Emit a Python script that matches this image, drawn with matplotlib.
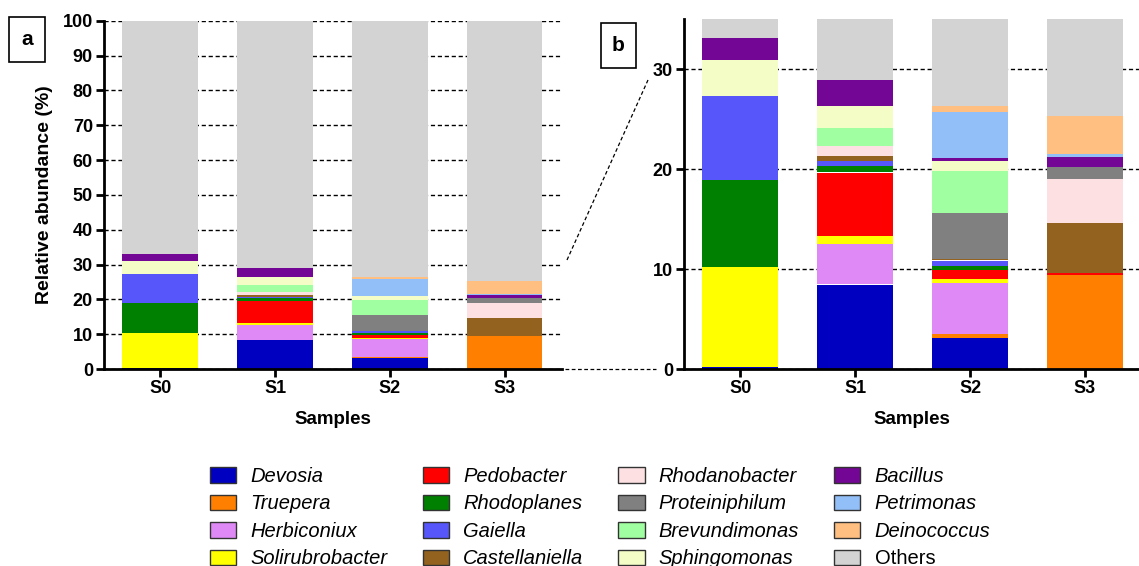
import matplotlib.pyplot as plt
from matplotlib.patches import Patch, Rectangle
from matplotlib.lines import Line2D
import numpy as np

plt.rcParams['font.family'] = ['Liberation Sans', 'DejaVu Sans']

samples = ['S0', 'S1', 'S2', 'S3']

# relative abundance (%) per genus, bottom of stack first
genera = ['Devosia', 'Truepera', 'Herbiconiux', 'Solirubrobacter',
          'Pedobacter', 'Rhodoplanes', 'Gaiella', 'Castellaniella',
          'Rhodanobacter', 'Proteiniphilum', 'Brevundimonas', 'Sphingomonas',
          'Bacillus', 'Petrimonas', 'Deinococcus', 'Others']

devosia = [0.2, 8.4, 3.1, 0.0]
truepera = [0.0, 0.05, 0.4, 9.4]
herbiconiux = [0.0, 4.1, 5.1, 0.0]
solirubrobacter = [10.0, 0.8, 0.4, 0.0]
pedobacter = [0.0, 6.3, 0.9, 0.2]
rhodoplanes = [8.7, 0.6, 0.4, 0.0]
gaiella = [8.4, 0.55, 0.55, 0.0]
castellaniella = [0.0, 0.45, 0.15, 5.05]
rhodanobacter = [0.0, 1.0, 0.0, 4.35]
proteiniphilum = [0.0, 0.0, 4.6, 1.25]
brevundimonas = [0.0, 1.8, 4.25, 0.0]
sphingomonas = [3.6, 2.25, 1.0, 0.0]
bacillus = [2.25, 2.65, 0.25, 0.95]
petrimonas = [0.0, 0.0, 4.65, 0.35]
deinococcus = [0.0, 0.0, 0.6, 3.8]

named = [devosia, truepera, herbiconiux, solirubrobacter, pedobacter,
         rhodoplanes, gaiella, castellaniella, rhodanobacter, proteiniphilum,
         brevundimonas, sphingomonas, bacillus, petrimonas, deinococcus]
others = list(100 - np.sum(named, axis=0))
series = named + [others]

colors = ['#0000c0', '#ff8000', '#df89f7', '#ffff00', '#ff0000', '#008000',
          '#5656fa', '#93621f', '#fde0e2', '#808080', '#a0ffa0', '#f4fdc6',
          '#730694', '#92bff8', '#ffbf80', '#d3d3d3']

fig = plt.figure(figsize=(11.39, 5.66), dpi=100)
W, H = 1139, 566

def px(x0, y0, x1, y1):
    # pixel box -> figure fraction rect
    return [x0 / W, 1 - y1 / H, (x1 - x0) / W, (y1 - y0) / H]

ax_a = fig.add_axes(px(104, 20.7, 562, 369))
ax_b = fig.add_axes(px(684, 19, 1139, 369))

x = np.arange(len(samples))
for ax, top, ticks, xlim in [(ax_a, 100, np.arange(0, 101, 10), (-0.49, 3.5)),
                             (ax_b, 35, [0, 10, 20, 30], (-0.49, 3.47))]:
    bottom = np.zeros(len(samples))
    for vals, c in zip(series, colors):
        ax.bar(x, vals, 0.66, bottom=bottom, color=c, linewidth=0, zorder=2)
        bottom += np.array(vals)
    ax.set_ylim(0, top)
    ax.set_xlim(*xlim)
    ax.set_yticks(ticks)
    ax.set_xticks(x)
    ax.set_xticklabels(samples)
    ax.yaxis.grid(True, color='black', linestyle=(0, (3, 2)), linewidth=1)
    ax.set_axisbelow(True)
    for s in ['top', 'right']:
        ax.spines[s].set_visible(False)
    for s in ['left', 'bottom']:
        ax.spines[s].set_linewidth(2)
    ax.tick_params(width=2, length=6, labelsize=13, pad=2)
    for lab in ax.get_xticklabels() + ax.get_yticklabels():
        lab.set_fontweight('bold')
    ax.set_xlabel('Samples', fontsize=13.5, fontweight='bold', labelpad=10)

ax_a.set_ylabel('Relative abundance (%)', fontsize=14, fontweight='bold', labelpad=7)

# panel labels
for (x0, y0, x1, y1), t in [((9, 17, 45, 62), 'a'), ((601, 23, 636, 68), 'b')]:
    r = Rectangle((x0 / W, 1 - y1 / H), (x1 - x0) / W, (y1 - y0) / H,
                  transform=fig.transFigure, fill=False, edgecolor='black', linewidth=1.2)
    fig.add_artist(r)
    fig.text((x0 + x1) / 2 / W, 1 - (y0 + y1) / 2 / H, t, ha='center', va='center',
             fontsize=15, fontweight='bold')

# zoom connector lines
for (x0, y0), (x1, y1) in [((567, 260), (648, 80)), ((565, 369), (656, 369))]:
    fig.add_artist(Line2D([x0 / W, x1 / W], [1 - y0 / H, 1 - y1 / H],
                          transform=fig.transFigure, color='black',
                          linestyle=(0, (3, 2)), linewidth=0.9))

handles = [Patch(facecolor=c, edgecolor='#333333', linewidth=1) for c in colors]
leg = fig.legend(handles, genera, ncol=4, loc='upper left',
                 bbox_to_anchor=(210 / W, 1 - 467 / H), frameon=False,
                 fontsize=14.5, handlelength=1.3, handleheight=0.8,
                 handletextpad=0.7, labelspacing=0.42, columnspacing=1.75,
                 borderaxespad=0, borderpad=0)
for t in leg.get_texts():
    if t.get_text() != 'Others':
        t.set_fontstyle('italic')

fig.savefig('out.png', dpi=100)
